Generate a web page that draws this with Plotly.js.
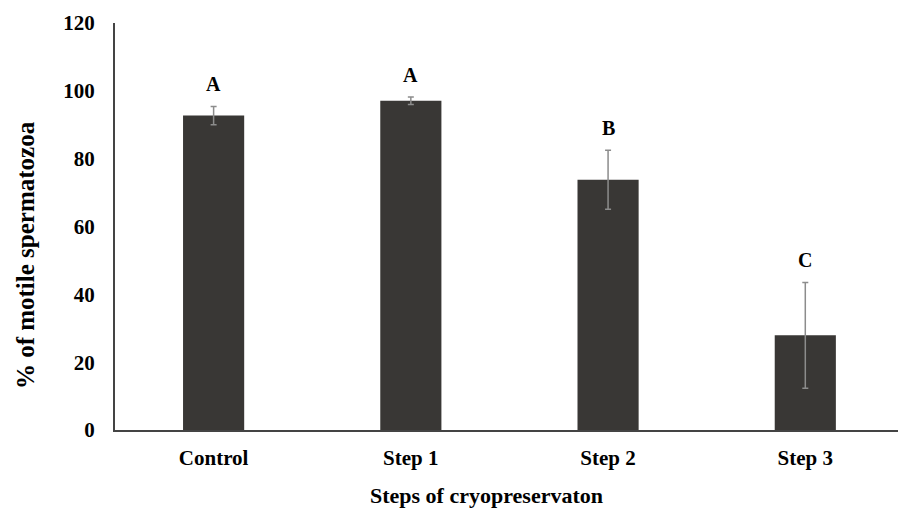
<!DOCTYPE html>
<html>
<head>
<meta charset="utf-8">
<script src="https://cdn.plot.ly/plotly-3.0.1.min.js"></script>
<style>
html,body{margin:0;padding:0;background:#fff;}
#chart{width:898px;height:508px;}
</style>
</head>
<body>
<div id="chart"></div>
<script>
const categories = ["Control", "Step 1", "Step 2", "Step 3"];
const motilePct = [92.7, 97.1, 73.8, 27.9];
const errorPct = [2.7, 1.1, 8.7, 15.6];
const groupLetters = ["A", "A", "B", "C"];
const yTickVals = [0, 20, 40, 60, 80, 100, 120];
const xTitle = "Steps of cryopreservaton";
const yTitle = "% of motile spermatozoa";

const fontFam = '"Liberation Serif", "Times New Roman", serif';

const trace = {
  type: 'bar',
  x: categories,
  y: motilePct,
  width: 0.31,
  marker: {color: '#393735', line: {width: 0}},
  error_y: {type: 'data', array: errorPct, visible: true, color: '#8c8c8c', thickness: 1.5, width: 3},
  hoverinfo: 'none'
};

const annotations = categories.map((c, i) => ({
  x: c, y: motilePct[i] + errorPct[i], xref: 'x', yref: 'y',
  text: '<b>' + groupLetters[i] + '</b>', showarrow: false,
  yanchor: 'bottom', yshift: 9,
  font: {family: fontFam, size: 20, color: '#000'}
}));
annotations.push({
  xref: 'paper', yref: 'paper', x: 0.474, y: -0.16,
  xanchor: 'center', yanchor: 'middle', showarrow: false,
  text: '<b>' + xTitle + '</b>',
  font: {family: fontFam, size: 22, color: '#000'}
});
annotations.push({
  xref: 'paper', yref: 'paper', x: -0.1135, y: 0.43,
  xanchor: 'center', yanchor: 'middle', showarrow: false, textangle: -90,
  text: '<b>' + yTitle + '</b>',
  font: {family: fontFam, size: 25, color: '#000'}
});

const layout = {
  width: 898, height: 508,
  margin: {l: 115, r: 0, t: 23, b: 78, pad: 0},
  paper_bgcolor: '#fff', plot_bgcolor: '#fff',
  showlegend: false,
  font: {family: fontFam, color: '#000'},
  xaxis: {
    range: [-0.5, 3.47],
    showline: true, linecolor: '#444', linewidth: 2,
    showgrid: false, zeroline: false, ticks: '',
    tickfont: {family: fontFam, size: 21, color: '#000', weight: 'bold'},
    ticklabelstandoff: 8
  },
  yaxis: {
    range: [0, 120], tickvals: yTickVals, ticktext: yTickVals.map(v => '<b>' + v + '</b>'),
    showline: true, linecolor: '#444', linewidth: 2,
    showgrid: false, zeroline: false, ticks: '',
    tickfont: {family: fontFam, size: 21, color: '#000'},
    ticklabelstandoff: 14
  },
  annotations: annotations
};

Plotly.newPlot('chart', [trace], layout, {staticPlot: true, displayModeBar: false});
</script>
</body>
</html>
